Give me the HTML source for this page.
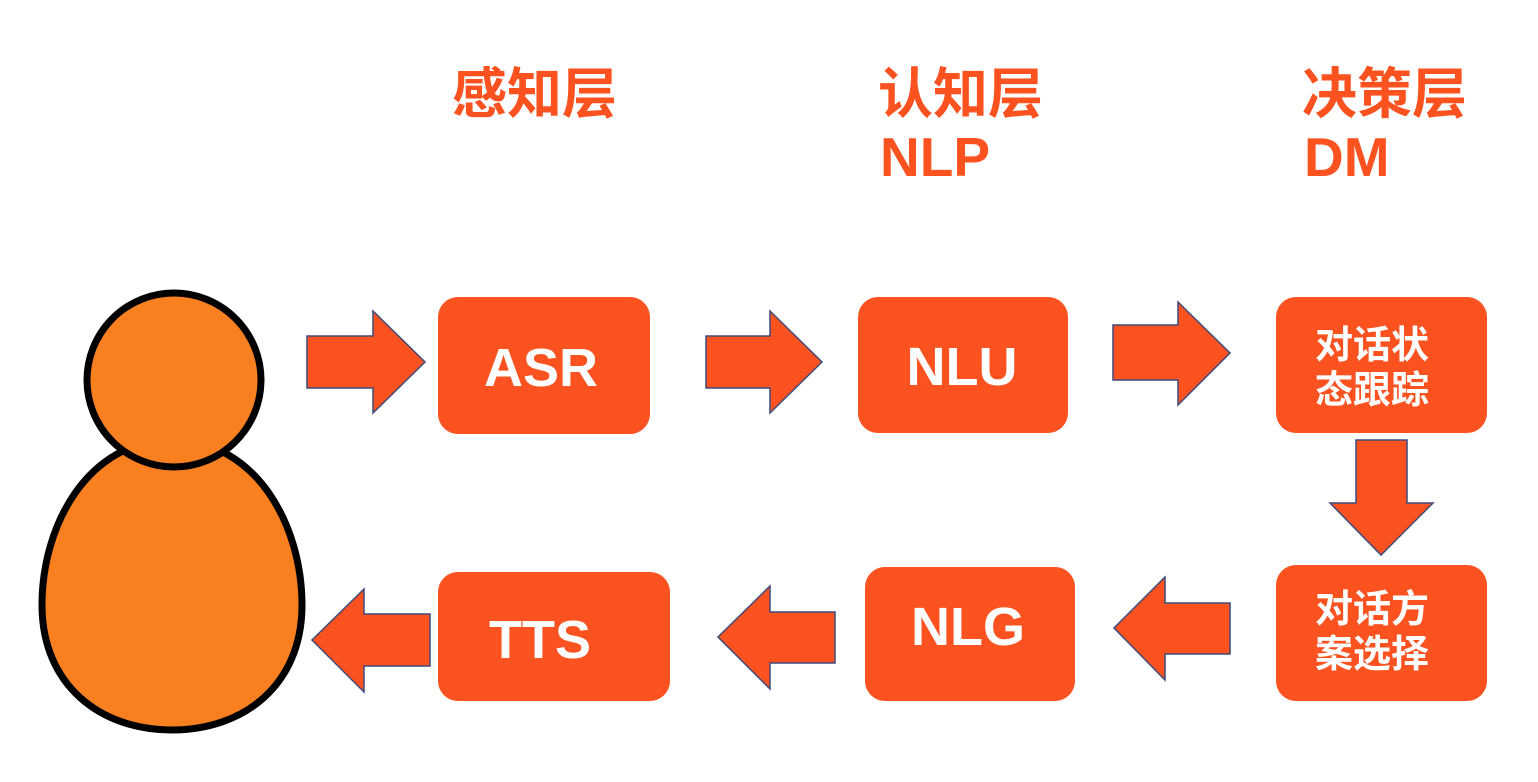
<!DOCTYPE html>
<html><head><meta charset="utf-8"><style>
html,body{margin:0;padding:0;background:#fff;}
svg{display:block}
text{font-family:"Liberation Sans","Noto Sans CJK SC",sans-serif;font-weight:bold}
</style></head><body>
<svg width="1538" height="782" viewBox="0 0 1538 782">
<g fill="#FC5220" font-size="55">
<text x="452" y="113">感知层</text>
<text x="878" y="113">认知层</text>
<text x="880" y="176">NLP</text>
<text x="1302" y="113">决策层</text>
<text x="1304" y="176">DM</text>
</g>
<path d="M172,440 C88,440 42,525 42,605 C42,685 100,730 172,730 C244,730 302,685 302,605 C302,525 256,440 172,440 Z" fill="#F98020" stroke="#000" stroke-width="7"/>
<circle cx="174" cy="380" r="87" fill="#F98020" stroke="#000" stroke-width="7"/>
<g fill="#FC5220">
<rect x="438" y="297" width="212" height="137" rx="20"/>
<rect x="858" y="297" width="210" height="136" rx="20"/>
<rect x="1276" y="297" width="211" height="136" rx="20"/>
<rect x="1276" y="565" width="211" height="136" rx="20"/>
<rect x="865" y="567" width="210" height="134" rx="20"/>
<rect x="438" y="572" width="232" height="129" rx="20"/>
</g>
<g fill="#fff" text-anchor="middle">
<text x="541" y="386" font-size="54">ASR</text>
<text x="962" y="385" font-size="54">NLU</text>
<text x="968" y="645" font-size="54">NLG</text>
<text x="540" y="658" font-size="54">TTS</text>
<text x="1372" y="358" font-size="38">对话状</text>
<text x="1372" y="403" font-size="38">态跟踪</text>
<text x="1372" y="622" font-size="38">对话方</text>
<text x="1372" y="667" font-size="38">案选择</text>
</g>
<g fill="#FC5220" stroke="#3F4A7A" stroke-width="1.5">
<polygon points="307,336 373,336 373,311 425,362 373,413 373,388 307,388"/>
<polygon points="706,336 770,336 770,311 822,362 770,413 770,388 706,388"/>
<polygon points="1113,325 1178,325 1178,302 1230,353 1178,405 1178,380 1113,380"/>
<polygon points="1356,440 1407,440 1407,503 1433,503 1381,555 1330,503 1356,503"/>
<polygon points="1230,603 1165,603 1165,577 1114,628 1165,680 1165,654 1230,654"/>
<polygon points="835,612 770,612 770,586 718,637 770,689 770,663 835,663"/>
<polygon points="430,614 364,614 364,589 312,640 364,692 364,666 430,666"/>
</g>
</svg>
</body></html>
